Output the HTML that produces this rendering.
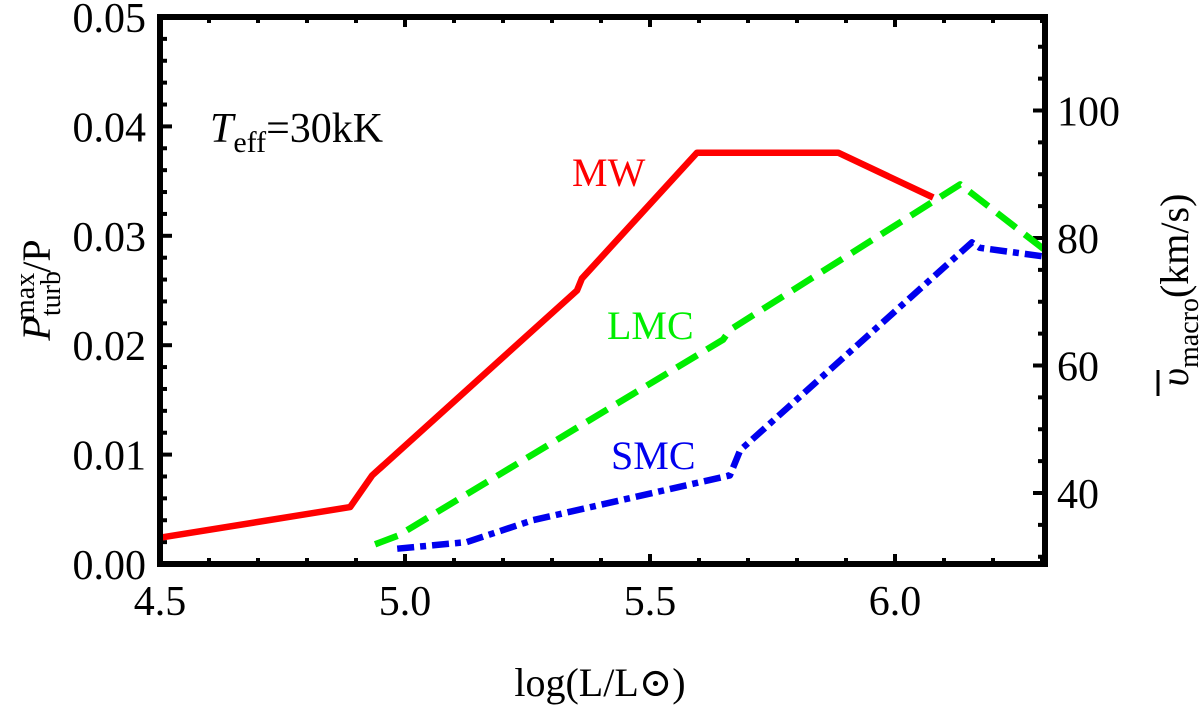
<!DOCTYPE html>
<html><head><meta charset="utf-8"><style>
html,body{margin:0;padding:0;background:#fff;}
svg, svg text{font-family:"Liberation Serif","DejaVu Serif",serif;}
</style></head><body>
<svg id="chart" width="1200" height="706" viewBox="0 0 1200 706" font-family="Liberation Serif, DejaVu Serif, serif">
<g id="ticks"></g>
<g id="series"></g>
<rect x="160" y="17" width="885" height="547" fill="none" stroke="#000" stroke-width="6"/>
<g id="labels"></g>
<text x="210" y="142" font-size="42"><tspan font-style="italic">T</tspan><tspan font-size="30" dy="10">eff</tspan><tspan dy="-10">=30kK</tspan></text>
<text x="572" y="186" font-size="40" fill="#ff0000">MW</text>
<text x="607" y="339" font-size="40" fill="#00ee00">LMC</text>
<text x="611" y="469" font-size="40" fill="#0000ee">SMC</text>
<text x="600" y="696" font-size="40" text-anchor="middle">log(L/L⊙)</text>
<text transform="translate(50,290) rotate(-90)" font-size="40" text-anchor="middle"><tspan font-style="italic">P</tspan><tspan font-size="28" dy="10">turb</tspan><tspan font-size="28" dx="-50" dy="-26">max</tspan><tspan dy="16">/P</tspan></text>
<g transform="translate(1188,290) rotate(-90)">
<text x="0" y="0" font-size="40" text-anchor="middle"><tspan font-style="italic">υ</tspan><tspan font-size="28" dy="10">macro</tspan><tspan dy="-10">(km/s)</tspan></text>
<line x1="-106" x2="-80" y1="-30" y2="-30" stroke="#000" stroke-width="3"/>
</g>
</svg>
<script>
const xTicks = [4.5, 5.0, 5.5, 6.0];
const xTickLabels = ["4.5", "5.0", "5.5", "6.0"];
const yTicks = [0, 0.01, 0.02, 0.03, 0.04, 0.05];
const yTickLabels = ["0.00", "0.01", "0.02", "0.03", "0.04", "0.05"];
const y2Ticks = [40, 60, 80, 100];
const y2TickLabels = ["40", "60", "80", "100"];
const mwL = [4.5, 4.888, 4.933, 5.351, 5.361, 5.596, 5.884, 6.078];
const mwP = [0.0024, 0.0052, 0.0081, 0.0250, 0.0261, 0.0376, 0.0376, 0.0335];
const lmcL = [4.939, 4.986, 5.649, 5.663, 6.133, 6.306];
const lmcP = [0.0018, 0.0026, 0.0205, 0.0214, 0.0347, 0.0287];
const smcL = [4.984, 5.126, 5.261, 5.663, 5.684, 6.157, 6.173, 6.306];
const smcP = [0.0014, 0.0020, 0.0040, 0.0081, 0.0104, 0.0294, 0.0289, 0.0281];

const NS = "http://www.w3.org/2000/svg";
const X0 = 160, X1 = 1045, Y0 = 564, Y1 = 17;
const xMin = 4.5, xMax = 4.5 + (X1 - X0) / 490;
const x = v => X0 + (v - xMin) / (xMax - xMin) * (X1 - X0);
const y = v => Y0 - v / 0.05 * (Y0 - Y1);
const y2 = v => 238 + (80 - v) * 6.375;
function mk(tag, attrs, parent) {
  const e = document.createElementNS(NS, tag);
  for (const k in attrs) e.setAttribute(k, attrs[k]);
  parent.appendChild(e);
  return e;
}
const tg = document.getElementById("ticks");
const lg = document.getElementById("labels");
const sg = document.getElementById("series");
for (let v = 4.5; v <= xMax + 1e-9; v += 0.1) {
  const major = Math.abs(v * 2 - Math.round(v * 2)) < 1e-6;
  const len = major ? 10 : 6;
  const b = mk("line", {x1: x(v), x2: x(v), y1: Y0, y2: Y0 - len, stroke: "#000", "stroke-width": 4}, tg);
  
  
  const t = mk("line", {x1: x(v), x2: x(v), y1: Y1, y2: Y1 + len, stroke: "#000", "stroke-width": 4}, tg);
  
  
}
xTicks.forEach((v, i) => {
  const t = mk("text", {x: x(v), y: 615, "font-size": 42, "text-anchor": "middle"}, lg);
  t.textContent = xTickLabels[i];
  
  
});
for (let v = 0; v <= 0.05 + 1e-9; v += 0.002) {
  const major = Math.abs(v * 100 - Math.round(v * 100)) < 1e-6;
  const l = mk("line", {x1: X0, x2: X0 + (major ? 12 : 7), y1: y(v), y2: y(v), stroke: "#000", "stroke-width": 4}, tg);
  
  
}
yTicks.forEach((v, i) => {
  const t = mk("text", {x: 146, y: y(v) + 15, "font-size": 42, "text-anchor": "end"}, lg);
  t.textContent = yTickLabels[i];
  
  
});
for (let v = 30; v <= 114; v += 5) {
  const major = v % 20 === 0;
  const l = mk("line", {x1: X1, x2: X1 - (major ? 12 : 7), y1: y2(v), y2: y2(v), stroke: "#000", "stroke-width": 4}, tg);
  
  
}
y2Ticks.forEach((v, i) => {
  const t = mk("text", {x: 1057, y: y2(v) + 15, "font-size": 42}, lg);
  t.textContent = y2TickLabels[i];
  
  
});
function series(L, P, color, dash, name) {
  const d = L.map((v, i) => (i ? "L" : "M") + x(v).toFixed(1) + " " + y(P[i]).toFixed(1)).join(" ");
  const p = mk("path", {d: d, fill: "none", stroke: color, "stroke-width": 6.5, "stroke-linejoin": "round"}, sg);
  if (dash) p.setAttribute("stroke-dasharray", dash);
  
  
}
series(mwL, mwP, "#ff0000", null, "mw-line");
series(lmcL, lmcP, "#00ee00", "24 11", "lmc-line");
series(smcL, smcP, "#0000ee", "17 6 6 6", "smc-line");
</script>
</body></html>
